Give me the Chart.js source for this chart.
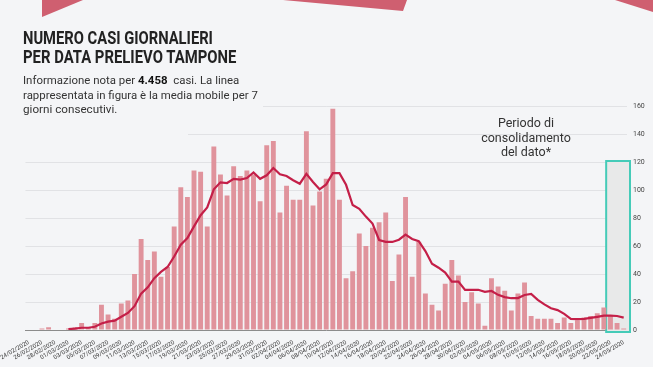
<!DOCTYPE html>
<html>
<head>
<meta charset="utf-8">
<script src="https://cdn.jsdelivr.net/npm/chart.js@4"></script>
<style>
  html, body { margin: 0; padding: 0; background: #f4f5f7; }
  body { width: 653px; height: 367px; position: relative; overflow: hidden; font-family: Roboto, "Noto Sans", sans-serif; }
  #wrap { position: absolute; left: 0; top: 0; width: 653px; height: 367px; }
  .cover { position: absolute; background: #f4f5f7; }
  .txt { position: absolute; white-space: nowrap; transform-origin: 0 0; }
  .title { font-weight: 700; font-size: 18px; line-height: 18px; color: #222; }
  .desc { font-size: 11.8px; line-height: 14px; color: #333; }
  .desc b { color: #111; }
  .note { position: absolute; width: 120px; text-align: center; font-size: 12.5px; color: #333; }
  #shapes { position: absolute; left: 0; top: 0; }
</style>
</head>
<body>
<div id="wrap"><canvas id="grafico" width="653" height="367"></canvas></div>

<div class="cover" style="left:0;top:96px;width:263px;height:22px"></div>
<div class="cover" style="left:0;top:124px;width:188px;height:18px"></div>

<div class="txt title" data-w="190" style="left:23px;top:29px">NUMERO CASI GIORNALIERI</div>
<div class="txt title" data-w="213" style="left:23px;top:48px">PER DATA PRELIEVO TAMPONE</div>
<div class="txt desc" data-w="216" style="left:23px;top:73px">Informazione nota per <b>4.458</b>&nbsp; casi. La linea</div>
<div class="txt desc" data-w="235" style="left:23px;top:88px">rappresentata in figura è la media mobile per 7</div>
<div class="txt desc" data-w="94" style="left:23px;top:102px">giorni consecutivi.</div>

<div class="note" style="left:466px;top:116px;line-height:14.5px">Periodo di<br>consolidamento<br>del dato*</div>

<svg id="shapes" width="653" height="20">
  <polygon points="42,0 83,0 42,17" fill="#cf5f70"/>
  <polygon points="283,0 407,0 403,11" fill="#cf5f70"/>
  <polygon points="615,0 653,0 653,12" fill="#cf5f70"/>
</svg>

<script>
// date di prelievo (24/02 - 24/05)
const giorni = [
  '24/02/2020','25/02/2020','26/02/2020','27/02/2020','28/02/2020','29/02/2020',
  '01/03/2020','02/03/2020','03/03/2020','04/03/2020','05/03/2020','06/03/2020','07/03/2020','08/03/2020',
  '09/03/2020','10/03/2020','11/03/2020','12/03/2020','13/03/2020','14/03/2020','15/03/2020','16/03/2020',
  '17/03/2020','18/03/2020','19/03/2020','20/03/2020','21/03/2020','22/03/2020','23/03/2020','24/03/2020',
  '25/03/2020','26/03/2020','27/03/2020','28/03/2020','29/03/2020','30/03/2020','31/03/2020',
  '01/04/2020','02/04/2020','03/04/2020','04/04/2020','05/04/2020','06/04/2020','07/04/2020','08/04/2020',
  '09/04/2020','10/04/2020','11/04/2020','12/04/2020','13/04/2020','14/04/2020','15/04/2020','16/04/2020',
  '17/04/2020','18/04/2020','19/04/2020','20/04/2020','21/04/2020','22/04/2020','23/04/2020','24/04/2020',
  '25/04/2020','26/04/2020','27/04/2020','28/04/2020','29/04/2020','30/04/2020',
  '01/05/2020','02/05/2020','03/05/2020','04/05/2020','05/05/2020','06/05/2020','07/05/2020','08/05/2020',
  '09/05/2020','10/05/2020','11/05/2020','12/05/2020','13/05/2020','14/05/2020','15/05/2020','16/05/2020',
  '17/05/2020','18/05/2020','19/05/2020','20/05/2020','21/05/2020','22/05/2020','23/05/2020','24/05/2020'
];

// casi giornalieri
const casi = [
  0, 0, 1, 2, 0, 0, 1, 2, 5, 2, 5, 18, 11, 8, 19, 21,
  40, 65, 50, 56, 38, 45, 74, 102, 95, 114, 113, 74, 131, 111,
  96, 117, 110, 114, 111, 92, 132, 135, 84, 103, 93, 93, 142, 89, 99, 108, 158, 93,
  37, 42, 69, 60, 73, 77, 84, 35, 54, 95, 38, 63, 26, 18,
  14, 33, 50, 39, 20, 27, 19, 3, 37, 31, 28, 14, 26, 34,
  10, 8, 8, 8, 5, 9, 5, 7, 9, 10, 12, 16, 10, 5, 1
];

// media mobile 7 giorni
const media = [
  null, null, null, null, null, null,
  0.6, 1, 1.6, 1.6, 2.3, 4.7, 6, 6.7, 9.5, 12.2,
  17, 26, 30.5, 37, 41.5, 45, 52.5, 61, 65.7, 74, 82, 87.5, 100.5, 105.5,
  105, 108, 107.4, 108.5, 112.5, 108, 110.5, 115.7, 111.2, 110, 107, 104.5, 111.5, 105.7, 100.5, 104, 112, 112,
  103.7, 89.3, 86.6, 81, 76, 64.3, 63, 62.9, 64.5, 68.2, 65, 63.5, 56.4, 47.3,
  44.5, 41, 34.6, 34.6, 28.6, 28.6, 28.7, 27.3, 27.9, 25.1, 23.5, 22.7, 22.8, 25,
  25.7, 21.5, 18.3, 15.5, 14.2, 11.5, 8, 7.8, 7.9, 8.6, 9.4, 10.2, 10.2, 10, 8.8
];

const yTicks = [0, 20, 40, 60, 80, 100, 120, 140, 160];

// periodo di consolidamento: ultimi 3 giorni, fino a 120
const consolidaDa = 88;
const consolidaMax = 120;

// adatta larghezza dei testi
document.querySelectorAll('.txt').forEach(el => {
    let w = el.scrollWidth;
    let target = parseFloat(el.dataset.w);
    el.style.transform = 'scaleX(' + (target / w) + ')';
});

const boxConsolidamento = {
    id: 'boxConsolidamento',
    beforeDatasetsDraw(chart) {
        const x = chart.scales.x, y = chart.scales.y, ctx = chart.ctx;
        let passo = x.getPixelForValue(1) - x.getPixelForValue(0);
        let x1 = x.getPixelForValue(consolidaDa) - passo / 2 - 1;
        let x2 = x.getPixelForValue(giorni.length - 1) + passo / 2 + 3;
        let y1 = y.getPixelForValue(consolidaMax) - 1;
        let y2 = y.getPixelForValue(0) + 2;
        ctx.save();
        ctx.fillStyle = '#e8e9e9';
        ctx.fillRect(x1, y1, x2 - x1, y2 - y1);
        ctx.strokeStyle = '#45cbb8';
        ctx.lineWidth = 2;
        ctx.strokeRect(x1, y1, x2 - x1, y2 - y1);
        ctx.restore();
    }
};

var ctx = document.getElementById('grafico').getContext('2d');
var grafico = new Chart(ctx, {
    data: {
        labels: giorni,
        datasets: [{
            type: 'line',
            label: 'Media mobile 7 giorni',
            data: media,
            borderColor: '#c41f48',
            borderWidth: 2.2,
            pointRadius: 0,
            tension: 0,
            order: 0
        }, {
            type: 'bar',
            label: 'Casi',
            data: casi,
            backgroundColor: '#e0939c',
            barPercentage: 0.74,
            categoryPercentage: 1,
            order: 1
        }]
    },
    options: {
        responsive: false,
        animation: false,
        layout: { padding: { left: 17, top: 106, right: 0, bottom: 0 } },
        plugins: {
            legend: { display: false },
            tooltip: { enabled: false }
        },
        scales: {
            x: {
                grid: { display: false },
                border: { display: true, color: '#8c8c8c', width: 1 },
                afterFit: s => { s.height = 37; },
                ticks: {
                    autoSkip: false,
                    minRotation: 30,
                    maxRotation: 30,
                    padding: 1,
                    color: '#333',
                    font: { family: 'Roboto', size: 6 },
                    callback: (v, i) => i % 2 === 0 ? giorni[i] : ''
                }
            },
            y: {
                position: 'right',
                min: 0,
                max: 160,
                afterBuildTicks: s => { s.ticks = yTicks.map(v => ({ value: v })); },
                afterFit: s => { s.width = 26; },
                grid: { color: '#e1e2e5', lineWidth: 1, drawTicks: false },
                border: { display: false },
                ticks: {
                    padding: 6,
                    color: '#444',
                    font: { family: 'Roboto', size: 7 }
                }
            }
        }
    },
    plugins: [boxConsolidamento]
});
</script>
</body>
</html>
